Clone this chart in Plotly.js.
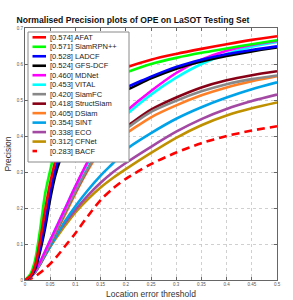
<!DOCTYPE html>
<html>
<head>
<meta charset="utf-8">
<script src="https://cdn.plot.ly/plotly-3.0.1.min.js"></script>
<style>html,body{margin:0;padding:0;background:#fff;}#chart{width:293px;height:300px;}</style>
</head>
<body>
<div id="chart"></div>
<script>
// Location error thresholds (x)
const thresholds = [0, 0.01, 0.02, 0.03, 0.04, 0.05, 0.06, 0.07, 0.08, 0.1, 0.125, 0.15, 0.175, 0.2, 0.25, 0.3, 0.35, 0.4, 0.45, 0.5];

const trackerNames = ["AFAT", "SiamRPN++", "LADCF", "GFS-DCF", "MDNet", "VITAL", "SiamFC", "StructSiam", "DSiam", "SINT", "ECO", "CFNet", "BACF"];
const trackerScores = ["0.574", "0.571", "0.528", "0.524", "0.460", "0.453", "0.420", "0.418", "0.405", "0.354", "0.338", "0.312", "0.283"];

const AFAT       = [0, 0.010, 0.040, 0.110, 0.195, 0.270, 0.330, 0.380, 0.420, 0.480, 0.525, 0.555, 0.576, 0.590, 0.612, 0.628, 0.642, 0.655, 0.667, 0.677];
const SiamRPNpp  = [0, 0.015, 0.055, 0.140, 0.240, 0.305, 0.360, 0.400, 0.430, 0.475, 0.515, 0.542, 0.562, 0.576, 0.600, 0.617, 0.631, 0.643, 0.655, 0.666];
const LADCF      = [0, 0.009, 0.035, 0.090, 0.160, 0.240, 0.305, 0.350, 0.385, 0.440, 0.482, 0.510, 0.526, 0.535, 0.565, 0.592, 0.612, 0.627, 0.639, 0.649];
const GFSDCF     = [0, 0.008, 0.030, 0.080, 0.145, 0.225, 0.290, 0.335, 0.370, 0.425, 0.470, 0.500, 0.517, 0.527, 0.560, 0.587, 0.607, 0.622, 0.635, 0.646];
const MDNet      = [0, 0.008, 0.025, 0.050, 0.080, 0.110, 0.140, 0.170, 0.200, 0.260, 0.330, 0.390, 0.435, 0.468, 0.525, 0.575, 0.612, 0.637, 0.653, 0.664];
const VITAL      = [0, 0.008, 0.025, 0.050, 0.080, 0.110, 0.140, 0.170, 0.200, 0.260, 0.325, 0.380, 0.425, 0.458, 0.515, 0.562, 0.600, 0.628, 0.648, 0.661];
const SiamFC     = [0, 0.007, 0.022, 0.045, 0.072, 0.100, 0.130, 0.160, 0.190, 0.245, 0.310, 0.365, 0.398, 0.420, 0.467, 0.498, 0.524, 0.544, 0.558, 0.568];
const StructSiam = [0, 0.007, 0.022, 0.045, 0.072, 0.100, 0.130, 0.160, 0.190, 0.245, 0.310, 0.370, 0.402, 0.425, 0.473, 0.507, 0.535, 0.555, 0.569, 0.580];
const DSiam      = [0, 0.007, 0.022, 0.045, 0.072, 0.100, 0.128, 0.155, 0.183, 0.240, 0.305, 0.360, 0.388, 0.407, 0.452, 0.485, 0.513, 0.535, 0.552, 0.566];
const SINT       = [0, 0.007, 0.022, 0.043, 0.068, 0.093, 0.118, 0.143, 0.165, 0.205, 0.250, 0.290, 0.325, 0.362, 0.408, 0.448, 0.480, 0.507, 0.530, 0.549];
const ECO        = [0, 0.008, 0.025, 0.047, 0.072, 0.095, 0.118, 0.140, 0.160, 0.195, 0.235, 0.270, 0.300, 0.325, 0.370, 0.412, 0.447, 0.475, 0.497, 0.515];
const CFNet      = [0, 0.008, 0.025, 0.047, 0.070, 0.092, 0.113, 0.133, 0.152, 0.188, 0.225, 0.257, 0.284, 0.308, 0.353, 0.395, 0.430, 0.457, 0.477, 0.493];
const BACF       = [0, 0.003, 0.010, 0.020, 0.032, 0.045, 0.060, 0.077, 0.095, 0.130, 0.178, 0.222, 0.255, 0.281, 0.322, 0.354, 0.380, 0.400, 0.415, 0.427];

const seriesValues = [AFAT, SiamRPNpp, LADCF, GFSDCF, MDNet, VITAL, SiamFC, StructSiam, DSiam, SINT, ECO, CFNet, BACF];

const yTicks = [0, 0.1, 0.2, 0.3, 0.4, 0.5, 0.6, 0.7];
const xTicks = [0, 0.05, 0.1, 0.15, 0.2, 0.25, 0.3, 0.35, 0.4, 0.45, 0.5];

// styles
const colors = ["#ff0000", "#00ff00", "#0000ff", "#000000", "#ff00ff", "#00ffff", "#888888", "#880015", "#ff7f27", "#00a2e8", "#a349a4", "#bf9000", "#ff0000"];
const dashes = ["solid","solid","solid","solid","solid","solid","solid","solid","solid","solid","solid","solid","8px,5px"];

const W = 293, H = 300;
const M = {l: 25, r: 16, t: 28, b: 20};
const PW = W - M.l - M.r, PH = H - M.t - M.b;
const px2x = p => (p - M.l) / PW;
const py2y = p => (H - M.b - p) / PH;

const FONT = "Liberation Sans, Arial, sans-serif";

const traces = [];
for (let i = seriesValues.length - 1; i >= 0; i--) {
  traces.push({
    x: thresholds, y: seriesValues[i], type: "scatter", mode: "lines",
    name: "[" + trackerScores[i] + "] " + trackerNames[i],
    line: {color: colors[i], width: 2.6, dash: dashes[i], shape: "spline", smoothing: 0.8},
    showlegend: false, hoverinfo: "skip"
  });
}

// custom compact legend
const shapes = [];
const annotations = [];
shapes.push({type: "rect", xref: "paper", yref: "paper",
  x0: px2x(28), x1: px2x(129), y0: py2y(162), y1: py2y(32),
  fillcolor: "#ffffff", line: {color: "#8a8a8a", width: 1}, layer: "above"});
const step = 9.48, first = 37.3;
for (let i = 0; i < trackerNames.length; i++) {
  const py = first + i * step;
  shapes.push({type: "line", xref: "paper", yref: "paper",
    x0: px2x(32.5), x1: px2x(i === 12 ? 37 : 46), y0: py2y(py), y1: py2y(py),
    line: {color: colors[i], width: 2.6}, layer: "above"});
  annotations.push({xref: "paper", yref: "paper", x: px2x(47.5), y: py2y(py),
    xanchor: "left", yanchor: "middle", showarrow: false,
    text: "[" + trackerScores[i] + "] " + trackerNames[i],
    font: {family: FONT, size: 7.5, color: "#222"}});
}

const layout = {
  width: W, height: H,
  margin: M,
  paper_bgcolor: "#ffffff", plot_bgcolor: "#ffffff",
  showlegend: false,
  title: {text: "<b>Normalised Precision plots of OPE on LaSOT Testing Set</b>",
    font: {family: FONT, size: 8.6, color: "#111"},
    xref: "container", yref: "container", x: 133 / W, y: (H - 20) / H, xanchor: "center", yanchor: "middle"},
  xaxis: {range: [0, 0.5], tickvals: xTicks, ticktext: xTicks.map(String),
    showgrid: true, gridcolor: "#c4c4c4", griddash: "dot", gridwidth: 0.8,
    zeroline: false, showline: true, linecolor: "#666", linewidth: 1, mirror: "ticks",
    ticks: "inside", ticklen: 3, tickcolor: "#666",
    tickfont: {family: FONT, size: 4.5, color: "#555"},
    title: {text: "Location error threshold", font: {family: FONT, size: 8.5, color: "#333"}, standoff: 4}},
  yaxis: {range: [0, 0.7], tickvals: yTicks, ticktext: yTicks.map(String),
    showgrid: true, gridcolor: "#c4c4c4", griddash: "dot", gridwidth: 0.8,
    zeroline: false, showline: true, linecolor: "#666", linewidth: 1, mirror: "ticks",
    ticks: "inside", ticklen: 3, tickcolor: "#666",
    tickfont: {family: FONT, size: 4.5, color: "#555"},
    title: {text: "Precision", font: {family: FONT, size: 8.5, color: "#333"}, standoff: 3}},
  shapes: shapes,
  annotations: annotations
};

Plotly.newPlot("chart", traces, layout, {staticPlot: true, displayModeBar: false});
</script>
</body>
</html>
